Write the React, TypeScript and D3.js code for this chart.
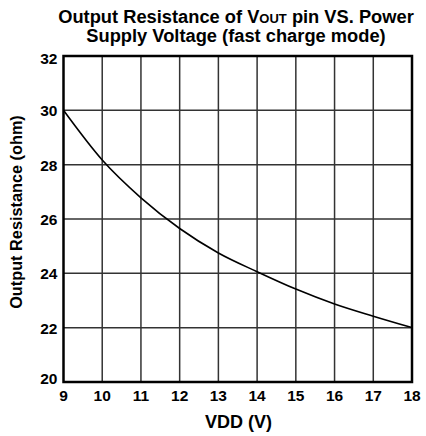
import React from "react";
import * as d3 from "d3";

const vdd = [9, 10, 11, 12, 13, 14, 15, 16, 17, 18];
const resistance = [30.0, 28.17, 26.78, 25.65, 24.75, 24.06, 23.42, 22.87, 22.42, 22.0];
const xTicks = [9, 10, 11, 12, 13, 14, 15, 16, 17, 18];
const yTicks = [20, 22, 24, 26, 28, 30, 32];

const W = 426, H = 436;
const left = 63.5, right = 412, top = 56, bottom = 382;

export default function App() {
  const x = d3.scaleLinear().domain([9, 18]).range([left, right]);
  const y = d3.scaleLinear().domain([20, 32]).range([bottom, top]);
  const line = d3.line<number>().x((_, i) => x(vdd[i])).y((d) => y(d)).curve(d3.curveMonotoneX);
  const font = "'Liberation Sans', Arial, sans-serif";
  const yOff = (i: number) => (i === 0 ? 1.5 : i === yTicks.length - 1 ? 8 : 6);
  return (
    <svg width={W} height={H} style={{ position: "absolute", left: 0, top: 0, background: "#fff" }} fontFamily={font} fontWeight="bold">
      <text x={236} y={22.5} textAnchor="middle" fontSize={18.3}>
        Output Resistance of V<tspan fontSize={13}>OUT</tspan> pin VS. Power
      </text>
      <text x={236} y={41.5} textAnchor="middle" fontSize={18.3}>Supply Voltage (fast charge mode)</text>
      {xTicks.slice(1, -1).map((t) => (
        <line key={"gx" + t} x1={x(t)} x2={x(t)} y1={top} y2={bottom} stroke="#333" strokeWidth={1.5} />
      ))}
      {yTicks.slice(1, -1).map((t) => (
        <line key={"gy" + t} x1={left} x2={right} y1={y(t)} y2={y(t)} stroke="#333" strokeWidth={1.5} />
      ))}
      <rect x={left} y={top} width={right - left} height={bottom - top} fill="none" stroke="#000" strokeWidth={2.5} />
      <path d={line(resistance) || ""} fill="none" stroke="#000" strokeWidth={1.6} />
      {xTicks.map((t) => (
        <text key={"xt" + t} x={x(t)} y={400.5} textAnchor="middle" fontSize={15.5}>{t}</text>
      ))}
      {yTicks.map((t, i) => (
        <text key={"yt" + t} x={57.5} y={y(t) + yOff(i)} textAnchor="end" fontSize={15.5}>{t}</text>
      ))}
      <text x={238.5} y={428} textAnchor="middle" fontSize={18}>VDD (V)</text>
      <text transform={`translate(21.5,212) rotate(-90)`} textAnchor="middle" fontSize={16.3}>Output Resistance (ohm)</text>
    </svg>
  );
}
